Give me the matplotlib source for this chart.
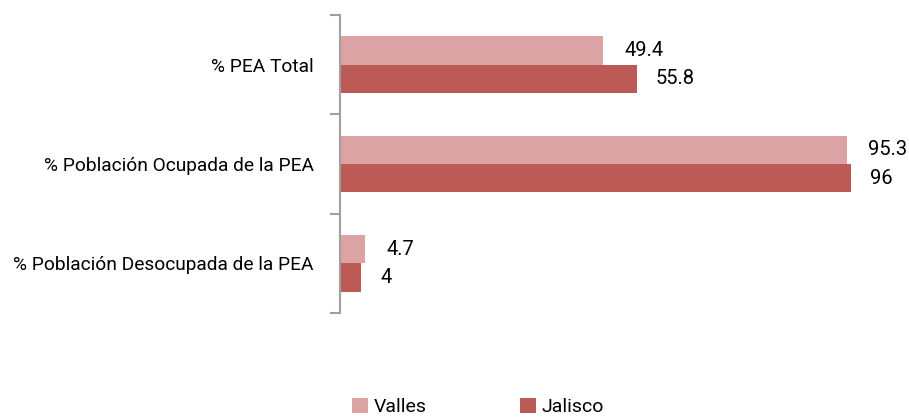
import matplotlib
matplotlib.use("Agg")
import matplotlib.pyplot as plt
from matplotlib import font_manager
import numpy as np

categories = ["% PEA Total", "% Población Ocupada de la PEA", "% Población Desocupada de la PEA"]
valles = [49.4, 95.3, 4.7]
jalisco = [55.8, 96, 4]
valles_labels = ["49.4", "95.3", "4.7"]
jalisco_labels = ["55.8", "96", "4"]

names = {f.name for f in font_manager.fontManager.ttflist}
fam = ["Liberation Sans Narrow"] if "Liberation Sans Narrow" in names else ["Roboto", "DejaVu Sans"]
plt.rcParams["font.family"] = fam + ["DejaVu Sans"]

c_val = "#dca3a4"
c_jal = "#bc5b55"

W, H = 909, 419
fig = plt.figure(figsize=(W / 100, H / 100), dpi=100)
ax = fig.add_axes([340 / W, (H - 313) / H, 532 / W, 298 / H])

n = len(categories)
y = np.arange(n)  # top to bottom
bh = 0.285
ax.barh(y - bh / 2, valles, height=bh, color=c_val, label="Valles")
ax.barh(y + bh / 2, jalisco, height=bh, color=c_jal, label="Jalisco")
for i in range(n):
    ax.text(valles[i] + 4, y[i] - bh / 2, valles_labels[i], va="center", ha="left", fontsize=14.5, color="black")
    ax.text(jalisco[i] + 3.6, y[i] + bh / 2, jalisco_labels[i], va="center", ha="left", fontsize=14.5, color="black")

ax.set_xlim(0, 100)
ax.set_ylim(n - 0.5, -0.5)
ax.set_yticks(y)
ax.set_yticklabels(categories, fontsize=13.8)
ax.set_yticks(np.arange(-0.5, n, 1.0), minor=True)
ax.tick_params(axis="y", which="major", length=0, pad=19)
ax.tick_params(axis="y", which="minor", length=7, color="#a0a0a0", width=1.5, direction="out")
ax.set_xticks([])
for s in ["top", "right", "bottom"]:
    ax.spines[s].set_visible(False)
ax.spines["left"].set_color("#a0a0a0")
ax.spines["left"].set_linewidth(1.5)

fig.legend(loc="center", bbox_to_anchor=(478 / W, 1 - 407 / H), ncol=2, frameon=False,
           fontsize=14, handlelength=0.8, handleheight=0.8, handletextpad=0.3, columnspacing=4.8)

fig.savefig("out.png", dpi=100)
